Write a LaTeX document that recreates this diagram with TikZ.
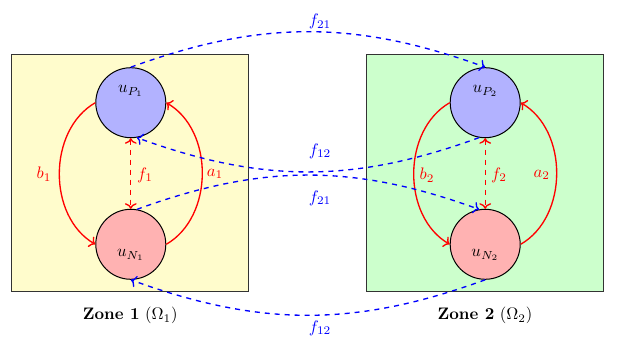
\documentclass[tikz,border=0pt]{standalone}
\usetikzlibrary{arrows.meta}
\begin{document}
\begin{tikzpicture}[x=0.6pt,y=0.6pt,
  zonebox/.style={draw=black!80,semithick},
  pnode/.style={circle,draw=black,semithick,fill=blue!30,minimum size=42pt,inner sep=0pt},
  nnode/.style={circle,draw=black,semithick,fill=red!30,minimum size=42pt,inner sep=0pt},
  redarc/.style={red,thick,->},
  redflux/.style={red,thick,dashed,<->},
  blueflux/.style={blue,thick,dashed,->},
  redlab/.style={text=red,inner sep=1pt},
  bluelab/.style={text=blue,inner sep=1pt}]
\useasboundingbox (0,0) rectangle (624,345);
% zones
\fill[yellow!20] (12,53) rectangle (249,290);
\draw[zonebox] (12,53) rectangle (249,290);
\fill[green!20] (366.7,53) rectangle (603.3,290);
\draw[zonebox] (366.7,53) rectangle (603.3,290);
% nodes
\node[pnode] (UP1) at (130.8,242.3) {};
\node[nnode] (UN1) at (130.8,100.7) {};
\node[pnode] (UP2) at (485.2,242.3) {};
\node[nnode] (UN2) at (485.2,100.7) {};
\node (LP1) at (130.8,254) {$u_{P_1}$};
\node (LN1) at (130.8,90) {$u_{N_1}$};
\node (LP2) at (485.2,254) {$u_{P_2}$};
\node (LN2) at (485.2,90) {$u_{N_2}$};
% zone labels
\node (Z1) at (130.3,29.3) {\textbf{Zone 1} ($\Omega_1$)};
\node (Z2) at (485,29.3) {\textbf{Zone 2} ($\Omega_2$)};
% red arcs zone 1
\draw[redarc] (UP1.west) to[bend right=60] (UN1.west);
\draw[redarc] (UN1.east) to[bend right=60] (UP1.east);
\draw[redflux] (UP1.south) -- (UN1.north);
\node[redlab] (b1) at (44,171) {$b_1$};
\node[redlab] (a1) at (215,171) {$a_1$};
\node[redlab] (f1) at (145,170) {$f_1$};
% red arcs zone 2
\draw[redarc] (UP2.west) to[bend right=60] (UN2.west);
\draw[redarc] (UN2.east) to[bend right=60] (UP2.east);
\draw[redflux] (UP2.south) -- (UN2.north);
\node[redlab] (b2) at (427,170) {$b_2$};
\node[redlab] (a2) at (541.7,170) {$a_2$};
\node[redlab] (f2) at (499,170) {$f_2$};
% blue fluxes
\draw[blueflux] (UP1.north) to[bend left=20] (UP2.north);
\draw[blueflux] (UN2.south) to[bend left=20] (UN1.south);
\draw[blueflux] (UP2.-100) to[bend left=20] (UP1.-80);
\draw[blueflux] (UN1.80) to[bend left=20] (UN2.100);
\node[bluelab] (t21) at (320,323.3) {$f_{21}$};
\node[bluelab] (b12) at (320,17) {$f_{12}$};
\node[bluelab] (m12) at (320,194) {$f_{12}$};
\node[bluelab] (m21) at (320,147) {$f_{21}$};
\end{tikzpicture}
\end{document}
